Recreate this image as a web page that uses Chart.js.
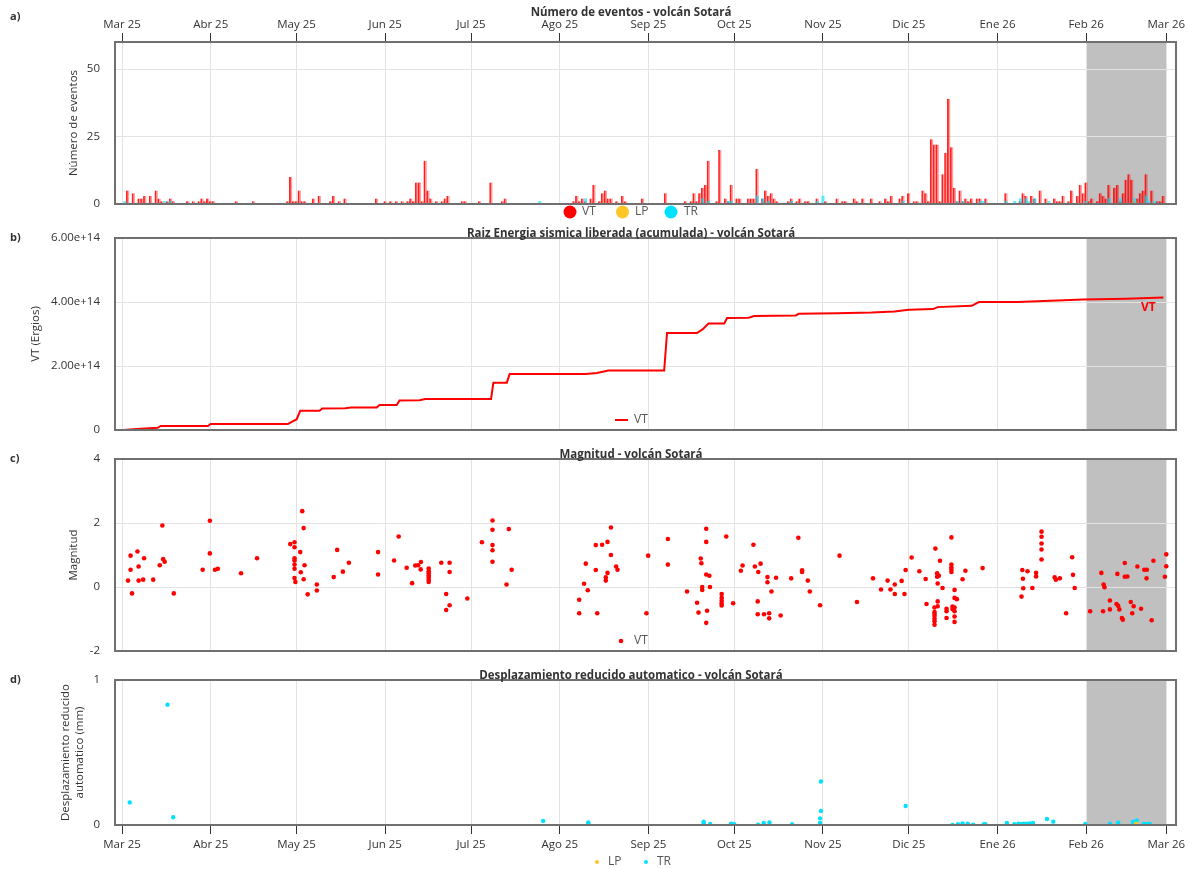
<!DOCTYPE html>
<html>
<head>
<meta charset="utf-8">
<title>Volcán Sotará</title>
<script src="https://cdn.jsdelivr.net/npm/chart.js@4.4.1/dist/chart.umd.min.js"></script>
<style>
  html, body { margin: 0; padding: 0; background: #fff; }
  #wrap { position: relative; width: 1188px; height: 869px; overflow: hidden; }
  canvas { position: absolute; left: 0; }
</style>
</head>
<body>
<div id="wrap">
  <canvas id="cA" width="1188" height="222" style="top:0px;width:1188px;height:222px"></canvas>
  <canvas id="cB" width="1188" height="225" style="top:222px;width:1188px;height:225px"></canvas>
  <canvas id="cC" width="1188" height="215" style="top:447px;width:1188px;height:215px"></canvas>
  <canvas id="cD" width="1188" height="207" style="top:662px;width:1188px;height:207px"></canvas>
</div>
<script>
// day 0 = 1 Mar 2025
const monthDays = [0, 31, 61, 92, 122, 153, 184, 214, 245, 275, 306, 337, 365];
const monthLabels = ['Mar 25', 'Abr 25', 'May 25', 'Jun 25', 'Jul 25', 'Ago 25', 'Sep 25',
  'Oct 25', 'Nov 25', 'Dic 25', 'Ene 26', 'Feb 26', 'Mar 26'];
const shadeStart = 337, shadeEnd = 365;   // febrero 2026

// a) numero de eventos diarios [dia, n]
const vtDaily = [[2,5],[4,4],[6,2],[7,2],[8,3],[10,3],[12,5],[13,2],[14,1],[16,1],[17,2],[18,1],
  [23,1],[25,1],[27,1],[28,2],[29,1],[30,2],[31,1],[32,1],[40,1],[46,1],[58,1],[59,10],[60,1],
  [61,1],[62,5],[63,1],[64,1],[67,2],[69,3],[73,1],[74,3],[76,1],[78,2],[89,2],
  [92,1],[94,1],[96,1],[98,1],[100,1],[101,2],[102,1],[103,8],[104,8],[105,1],[106,16],[107,5],
  [108,2],[110,1],[112,1],[113,2],[114,3],[119,1],[120,1],[125,1],[129,8],[133,1],[134,2],
  [158,1],[159,3],[160,1],[161,2],[162,1],[164,2],[165,7],[167,1],[168,4],[169,5],[170,2],
  [171,2],[173,1],[175,3],[176,1],[182,2],
  [190,4],[197,1],[199,1],[200,4],[201,1],[202,4],[203,6],[204,7],[205,16],[208,1],[209,20],
  [211,2],[212,1],[213,7],[215,2],[216,2],[219,2],[220,2],[221,2],[222,13],[224,2],[225,5],
  [226,3],[227,4],[228,2],[229,1],[233,1],[234,2],[236,1],[237,2],[239,1],[240,1],[243,2],
  [246,1],[250,2],[252,1],[253,1],[256,2],[257,1],[259,2],[262,2],[265,1],[267,2],[268,1],
  [269,3],[272,2],[273,3],[275,4],[277,1],[278,1],[280,5],[281,4],
  [282,1],[283,24],[284,22],[285,22],[286,1],[287,11],[288,19],[289,39],[290,21],[291,6],
  [292,1],[293,5],[294,1],[295,2],[296,1],[297,2],[299,2],[300,2],[302,2],[309,4],[314,1],
  [315,4],[316,3],[318,3],[319,2],[321,5],[323,2],[326,2],[327,1],[328,1],[329,3],[331,1],
  [332,5],[334,3],[335,7],[336,4],[337,8],[338,1],[339,2],[341,1],[342,4],[343,3],[344,2],
  [345,7],[347,6],[348,7],[349,1],[350,4],[351,9],[352,11],[353,9],[354,1],[355,2],[356,4],
  [357,5],[358,11],[360,5],[362,1],[363,1],[364,3]];
const lpDaily = [[354,1]];
const trDaily = [[1,1],[15,1],[17,1],[146,1],[162,2],[203,2],[205,1],[212,1],[213,1],[222,3],
  [224,2],[226,1],[234,1],[243,1],[245,3],[273,1],[292,1],[294,1],[300,1],[301,1],[309,1],
  [312,1],[314,2],[316,2],[317,1],[319,2],[324,1],[337,1],[345,2],[349,2],[354,2],[358,3],
  [359,1],[361,1]];

// b) raiz energia acumulada VT [dia, ergios]
const vtEnergy = [[0.5,0],[5,0.03e14],[12.5,0.07e14],[13.5,0.125e14],[30,0.125e14],[31,0.19e14],
  [58,0.19e14],[59.5,0.26e14],[61,0.33e14],[62.3,0.6e14],[69,0.6e14],[70,0.67e14],[78,0.68e14],
  [80,0.7e14],[89,0.7e14],[90,0.78e14],[96,0.78e14],[97,0.92e14],[104,0.93e14],[106,0.97e14],
  [129,0.97e14],[129.8,1.48e14],[134.5,1.48e14],[135.5,1.75e14],[162,1.75e14],[166,1.78e14],
  [170,1.86e14],[189.5,1.86e14],[190.5,3.03e14],[201,3.03e14],[203,3.15e14],[205,3.33e14],
  [210.5,3.33e14],[211.5,3.5e14],[219,3.51e14],[221,3.56e14],[235.5,3.58e14],[236.5,3.63e14],
  [250,3.65e14],[262,3.67e14],[270,3.7e14],[275,3.76e14],[283.5,3.78e14],[285,3.84e14],
  [297,3.88e14],[299.5,4.0e14],[313,4.0e14],[320,4.02e14],[336,4.08e14],[351,4.1e14],
  [364,4.14e14]];
const yTicksEnergy = [0, 2e14, 4e14, 6e14];

// c) magnitud VT [dia, M]
const vtMag = [[2.1,0.2],[3.0,0.98],[3.0,0.54],[3.5,-0.2],[5.4,1.11],[5.8,0.64],[5.8,0.2],
  [7.4,0.23],[7.7,0.9],[10.9,0.23],[13.2,0.68],[14.1,1.92],[14.4,0.87],[14.9,0.79],[18.1,-0.2],
  [28.2,0.54],[30.7,2.07],[30.7,1.05],[32.5,0.54],[33.5,0.57],[41.6,0.43],[47.2,0.9],[58.8,1.34],
  [60.3,1.4],[60.3,1.24],[60.3,0.9],[60.3,0.83],[60.3,0.7],[60.3,0.57],[60.3,0.28],[60.6,0.16],
  [62.3,1.09],[62.5,0.46],[63.0,2.37],[63.5,1.84],[63.8,0.68],[63.5,0.24],[64.9,-0.23],
  [68.1,0.08],[68.1,-0.11],[74.0,0.31],[75.2,1.16],[77.2,0.48],[79.3,0.76],[89.5,1.09],
  [89.5,0.39],[95.1,0.83],[96.7,1.58],[99.5,0.6],[101.4,0.12],[102.5,0.67],[103.5,0.68],
  [104.5,0.78],[104.4,0.55],[107.2,0.58],[107.2,0.49],[107.2,0.43],[107.2,0.36],[107.2,0.3],
  [107.2,0.23],[107.2,0.16],[111.6,0.76],[113.3,-0.22],[113.3,-0.72],[114.5,0.76],[114.5,0.47],
  [114.5,-0.57],[120.7,-0.36],[125.8,1.4],[129.5,2.08],[129.5,1.79],[129.5,1.31],[129.5,1.15],
  [129.5,0.79],[134.4,0.08],[135.2,1.81],[136.2,0.54],[159.8,-0.4],[159.8,-0.82],[161.5,0.1],
  [162.1,0.73],[162.8,-0.1],[165.6,1.31],[165.6,0.53],[166.1,-0.82],
  [167.8,1.32],[169.1,0.3],[169.1,0.2],[169.7,1.41],[169.7,0.44],[170.9,1.86],[170.9,1.0],
  [172.7,0.64],[173.2,0.54],[183.3,-0.82],[183.9,0.98],[190.8,1.5],[190.8,0.7],[197.5,-0.14],
  [201.0,-0.49],[201.5,-0.8],[202.3,0.89],[202.5,0.74],[202.8,0.0],[202.8,-0.09],[204.2,1.82],
  [204.2,1.41],[204.2,0.39],[204.5,-0.74],[204.2,-1.12],[205.3,0.35],[205.5,0.0],[209.6,-0.22],
  [209.6,-0.34],[209.6,-0.43],[209.6,-0.51],[209.6,-0.58],[211.2,1.58],[213.6,-0.51],
  [216.3,0.51],[216.9,0.67],[220.7,1.32],[221.2,0.64],[222.2,-0.45],[222.2,-0.85],[222.4,0.47],
  [223.2,0.73],[224.4,-0.85],[225.6,0.31],[225.6,0.15],[226.2,-0.82],[226.2,-0.98],[227.0,-0.14],
  [228.6,0.29],[230.2,-0.89],[233.9,0.27],[236.4,1.54],[237.7,0.52],[237.7,0.47],[239.7,0.2],
  [240.4,-0.14],[244.0,-0.57],[250.8,0.98],[256.9,-0.47],[262.5,0.27],[265.3,-0.08],[267.6,0.2],
  [268.6,-0.08],[270.1,0.08],[270.1,-0.22],[272.5,0.19],[273.5,-0.22],[273.9,0.53],[276.0,0.92],
  [278.7,0.49],[280.9,0.25],[281.2,-0.53],[284.3,1.2],[284.0,-0.64],[284.0,-0.78],[284.0,-0.84],
  [284.0,-0.91],[284.0,-0.99],[284.0,-1.07],[284.0,-1.18],[284.9,0.43],[284.9,0.32],[285.1,0.11],
  [285.1,-0.45],[285.1,-0.6],[285.5,0.35],[285.9,0.82],[286.8,-0.03],[288.2,-0.68],[288.2,-0.76],
  [288.2,-0.97],[289.9,1.55],[289.9,0.7],[289.9,0.61],[289.9,0.54],[289.9,0.47],[290.3,-0.61],
  [290.3,-0.69],[291.0,-0.09],[291.0,-0.34],[291.0,-0.64],[291.0,-0.76],[291.0,-0.92],
  [291.0,-1.09],[291.8,-0.38],[293.8,0.24],[294.8,0.51],[300.8,0.59],[314.4,-0.3],[314.7,0.53],
  [314.9,0.26],[315.0,-0.04],[316.5,0.49],[318.2,-0.03],[319.5,0.44],[319.5,0.33],[321.4,1.73],
  [321.4,1.57],[321.4,1.36],[321.4,1.17],[321.4,0.86],[326.0,0.3],[326.4,0.23],[327.8,0.27],
  [330.0,-0.82],[332.1,0.93],[332.4,0.38],[333.0,-0.03],[338.4,-0.76],[342.3,0.44],[342.9,-0.76],
  [343.1,0.08],[343.4,-0.01],[345.3,-0.7],[345.3,-0.42],[347.9,0.41],[347.6,-0.53],[348.2,-0.59],
  [348.6,-0.7],[349.5,-0.97],[349.8,-1.02],[350.5,0.75],[350.5,0.32],[351.4,0.33],[352.6,-0.47],
  [353.1,-0.82],[353.6,-0.6],[354.9,0.64],[356.2,-0.68],[357.3,0.54],[358.2,0.54],[358.1,0.27],
  [359.9,-1.04],[360.5,0.82],[364.5,0.32],[365.0,1.02],[365.0,0.65]];

// d) desplazamiento reducido automatico [dia, mm]
const trDr = [[2.7,0.156],[15.9,0.83],[17.9,0.053],[147.2,0.028],[163,0.018],[163,0.009],
  [203.3,0.023],[203.3,0.014],[205.6,0.007],[212.9,0.009],[214,0.005],[222.3,0.002],[224.3,0.014],
  [226.3,0.018],[234.2,0.005],[244,0.014],[244,0.046],[244.3,0.097],[244.3,0.3],[273.9,0.131],
  [290.3,0.0],[292.2,0.005],[293.8,0.011],[295.6,0.009],[297.5,0.002],[301.2,0.005],[301.8,0.005],
  [309.3,0.014],[311.9,0.005],[313.3,0.009],[314.4,0.007],[315.3,0.009],[316.3,0.009],
  [317.4,0.011],[318.4,0.014],[323.3,0.041],[325.5,0.023],[336.7,0.007],[345.3,0.009],
  [348.2,0.016],[353.4,0.023],[353.6,0.014],[354.7,0.032],[357.1,0.007],[358.2,0.007],
  [359.2,0.007]];
const lpDr = [[354.4,0.009]];

const FONT = "'Open Sans', 'Noto Sans', sans-serif";
const RED = '#ff0000', LP_COLOR = '#ffc627', TR_COLOR = '#00e1ff';
const PLOT_LEFT = 115, PLOT_RIGHT_PAD = 12, TITLE_X = 631;
const X_MIN = -2.45, X_MAX = 368.4;

Chart.defaults.font.family = FONT;
Chart.defaults.font.size = 11.5;
Chart.defaults.color = '#333';

const toXY = arr => arr.map(([x, y]) => ({ x, y }));

const decor = {
  id: 'decor',
  beforeDraw(chart) {
    const { ctx, chartArea: a, scales } = chart;
    const x0 = scales.x.getPixelForValue(shadeStart);
    const x1 = scales.x.getPixelForValue(shadeEnd);
    ctx.save();
    ctx.fillStyle = '#c0c0c0';
    ctx.fillRect(x0, a.top, x1 - x0, a.bottom - a.top);
    ctx.restore();
  },
  afterDraw(chart, args, o) {
    const { ctx, chartArea: a } = chart;
    ctx.save();
    ctx.strokeStyle = '#707070';
    ctx.lineWidth = 2;
    ctx.strokeRect(a.left, a.top, a.right - a.left, a.bottom - a.top);

    ctx.fillStyle = '#333';
    ctx.font = `bold 11px ${FONT}`;
    ctx.textAlign = 'left';
    ctx.textBaseline = 'middle';
    ctx.fillText(o.letter, 10, o.letterY);

    ctx.font = `bold 11.5px ${FONT}`;
    ctx.textAlign = 'center';
    ctx.textBaseline = 'alphabetic';
    ctx.fillText(o.title, TITLE_X, o.titleY);

    ctx.font = `12px ${FONT}`;
    ctx.textAlign = 'left';
    ctx.textBaseline = 'middle';
    for (const it of o.legend) {
      ctx.fillStyle = it.color;
      ctx.strokeStyle = it.color;
      if (it.kind === 'line') {
        ctx.lineWidth = 2;
        ctx.beginPath();
        ctx.moveTo(it.x - 6, o.legendY);
        ctx.lineTo(it.x + 7, o.legendY);
        ctx.stroke();
      } else {
        ctx.beginPath();
        ctx.arc(it.x, o.legendY, it.r, 0, Math.PI * 2);
        ctx.fill();
      }
      ctx.fillStyle = '#555';
      ctx.fillText(it.text, it.tx, o.legendY);
    }

    if (o.endLabel) {
      const pts = chart.getDatasetMeta(0).data;
      const p = pts[pts.length - 1];
      ctx.fillStyle = RED;
      ctx.font = `bold 12px ${FONT}`;
      ctx.textAlign = 'center';
      ctx.fillText(o.endLabel, p.x - 15, p.y + 10);
    }
    ctx.restore();
  }
};

function xAxis(kind) {
  const h = kind === 'top' ? 42 : kind === 'bottom' ? 44 : 0;
  return {
    type: 'linear', min: X_MIN, max: X_MAX, offset: false,
    position: kind === 'top' ? 'top' : 'bottom',
    afterBuildTicks: s => { s.ticks = monthDays.map(v => ({ value: v })); },
    afterFit: s => { s.height = h; s.paddingLeft = 0; s.paddingRight = 0; },
    grid: { color: '#e3e3e3', tickColor: '#333', tickLength: 9, offset: false, drawTicks: kind !== 'none' },
    border: { display: false },
    ticks: {
      display: kind !== 'none', padding: kind === 'top' ? 1 : 4, maxRotation: 0, autoSkip: false,
      callback: v => monthLabels[monthDays.indexOf(v)]
    }
  };
}

function yAxis(min, max, ticks, title, titlePad, fmt) {
  return {
    type: 'linear', min, max,
    afterBuildTicks: s => { s.ticks = ticks.map(v => ({ value: v })); },
    afterFit: s => { s.width = PLOT_LEFT; s.paddingTop = 0; s.paddingBottom = 0; },
    grid: { color: '#e3e3e3', drawTicks: false },
    border: { display: false },
    ticks: { padding: 15, callback: fmt || (v => String(v)) },
    title: { display: true, text: title, color: '#333', font: { size: 11.5 }, padding: { top: titlePad, bottom: 0 } }
  };
}

function baseOptions(pad, decorOpts, scales) {
  return {
    responsive: false,
    animation: false,
    events: [],
    layout: { padding: { left: 0, right: PLOT_RIGHT_PAD, top: pad.top, bottom: pad.bottom } },
    plugins: { legend: { display: false }, tooltip: { enabled: false }, decor: decorOpts },
    scales
  };
}

// a) Numero de eventos
new Chart(document.getElementById('cA'), {
  type: 'bar',
  data: {
    datasets: [
      { label: 'TR', data: toXY(trDaily), backgroundColor: 'rgba(0,225,255,0.6)', barThickness: 2.5, grouped: false, order: 0 },
      { label: 'LP', data: toXY(lpDaily), backgroundColor: 'rgba(255,198,39,0.7)', barThickness: 2.5, grouped: false, order: 1 },
      { label: 'VT', data: toXY(vtDaily), backgroundColor: 'rgba(255,0,0,0.38)', borderColor: 'rgba(255,0,0,0.85)',
        borderWidth: { left: 1, right: 0, top: 0, bottom: 0 }, borderSkipped: false, barThickness: 3, grouped: false, order: 2 }
    ]
  },
  options: baseOptions({ top: 0, bottom: 18 }, {
    letter: 'a)', letterY: 17, title: 'Número de eventos - volcán Sotará', titleY: 16, legendY: 212,
    legend: [
      { kind: 'circle', r: 6.5, color: RED, x: 570, tx: 582, text: 'VT' },
      { kind: 'circle', r: 6.5, color: LP_COLOR, x: 622.5, tx: 635, text: 'LP' },
      { kind: 'circle', r: 6.5, color: TR_COLOR, x: 671, tx: 684, text: 'TR' }
    ]
  }, {
    x: xAxis('top'),
    y: yAxis(0, 60, [0, 25, 50], 'Número de eventos', 67)
  }),
  plugins: [decor]
});

// b) Raiz energia sismica liberada (acumulada)
new Chart(document.getElementById('cB'), {
  type: 'line',
  data: {
    datasets: [
      { label: 'VT', data: toXY(vtEnergy), borderColor: RED, borderWidth: 2, pointRadius: 0, tension: 0, fill: false }
    ]
  },
  options: baseOptions({ top: 16, bottom: 17 }, {
    letter: 'b)', letterY: 16, title: 'Raiz Energia sismica liberada (acumulada) - volcán Sotará', titleY: 15,
    legendY: 198, endLabel: 'VT',
    legend: [{ kind: 'line', color: RED, x: 621, tx: 634, text: 'VT' }]
  }, {
    x: xAxis('none'),
    y: yAxis(0, 6e14, yTicksEnergy, 'VT (Ergios)', 29, v => (v === 0 ? '0' : v.toExponential(2)))
  }),
  plugins: [decor]
});

// c) Magnitud
new Chart(document.getElementById('cC'), {
  type: 'scatter',
  data: {
    datasets: [
      { label: 'VT', data: toXY(vtMag), backgroundColor: RED, borderWidth: 0, pointRadius: 2.3 }
    ]
  },
  options: baseOptions({ top: 12, bottom: 11 }, {
    letter: 'c)', letterY: 12, title: 'Magnitud - volcán Sotará', titleY: 11, legendY: 194,
    legend: [{ kind: 'dot', r: 2.3, color: RED, x: 621, tx: 634, text: 'VT' }]
  }, {
    x: xAxis('none'),
    y: yAxis(-2, 4, [-2, 0, 2, 4], 'Magnitud', 67)
  }),
  plugins: [decor]
});

// d) Desplazamiento reducido automatico
new Chart(document.getElementById('cD'), {
  type: 'scatter',
  data: {
    datasets: [
      { label: 'LP', data: toXY(lpDr), backgroundColor: LP_COLOR, borderWidth: 0, pointRadius: 2.2, order: 0 },
      { label: 'TR', data: toXY(trDr), backgroundColor: TR_COLOR, borderWidth: 0, pointRadius: 2.2, order: 1 }
    ]
  },
  options: baseOptions({ top: 18, bottom: 0 }, {
    letter: 'd)', letterY: 18, title: 'Desplazamiento reducido automatico - volcán Sotará', titleY: 17, legendY: 200,
    legend: [
      { kind: 'dot', r: 2, color: LP_COLOR, x: 597, tx: 608, text: 'LP' },
      { kind: 'dot', r: 2, color: TR_COLOR, x: 646, tx: 657, text: 'TR' }
    ]
  }, {
    x: xAxis('bottom'),
    y: yAxis(0, 1, [0, 1], ['Desplazamiento reducido', 'automatico (mm)'], 58.6)
  }),
  plugins: [decor]
});
</script>
</body>
</html>
